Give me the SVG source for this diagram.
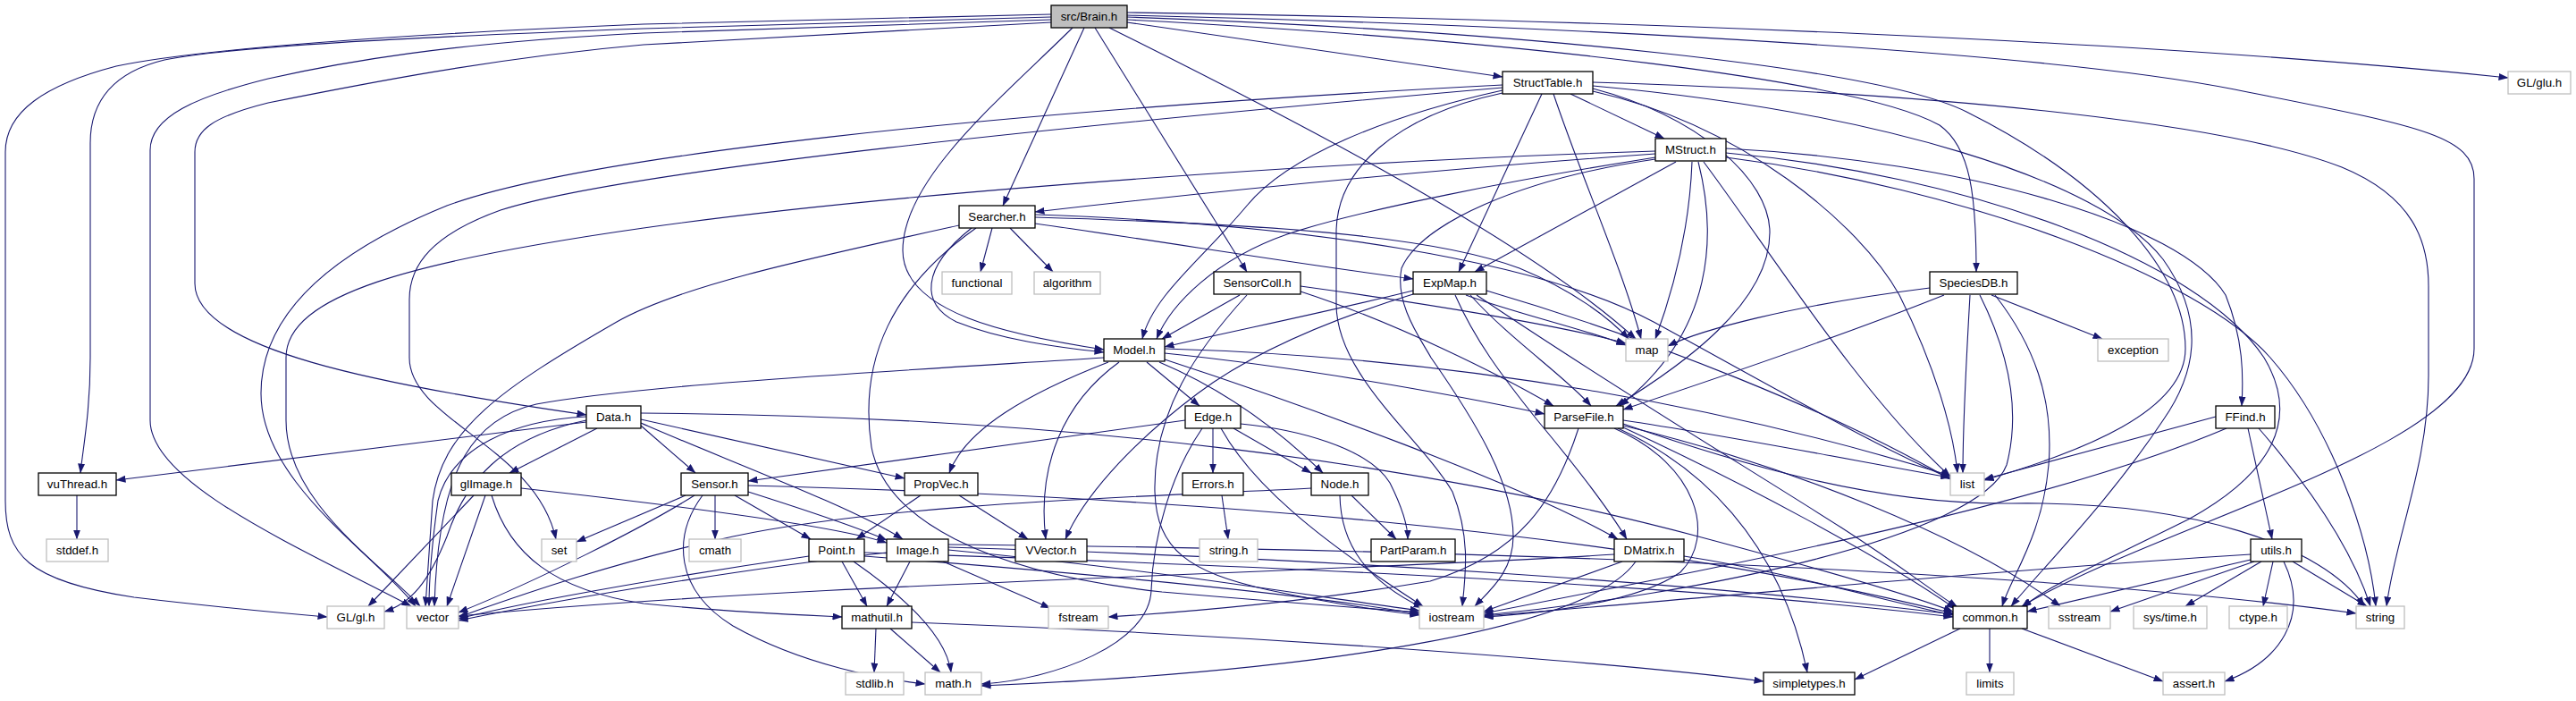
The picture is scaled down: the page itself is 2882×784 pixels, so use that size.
<svg xmlns="http://www.w3.org/2000/svg" width="2882" height="784" viewBox="0 0 2882 784">
<style>
.e{fill:none;stroke:#191970;stroke-width:1.1;marker-end:url(#a)}
.p{fill:#fff;stroke:#000;stroke-width:1.3}
.x{fill:#fff;stroke:#bfbfbf;stroke-width:1.3}
.r{fill:#bfbfbf;stroke:#000;stroke-width:1.3}
text{font-family:"Liberation Sans",Arial,sans-serif;font-size:13.3px;fill:#000;text-anchor:middle}
</style>
<defs>
<marker id="a" markerWidth="11" markerHeight="8" refX="10.5" refY="4" orient="auto" markerUnits="userSpaceOnUse"><path d="M0,0 L11,4 L0,8 z" fill="#191970"/></marker>
</defs>
<rect width="2882" height="784" fill="#fff"/>
<g id="edges">
<path class="e" d="M1176,16 C1000,20 850,24 720,27 C450,38 220,55 130,74 C50,95 6,125 6,170 L6,560 C6,620 30,650 150,668 C250,680 320,686 366,690"/>
<path class="e" d="M1176,19 C1000,24 850,29 720,32 C450,42 260,52 184,67 C130,80 101,110 101,160 L101,400 C101,460 93,500 90,529"/>
<path class="e" d="M1176,22 C1000,28 850,33 720,37 C500,48 380,70 300,88 C220,108 168,130 168,168 L168,470 C168,540 330,610 460,678"/>
<path class="e" d="M1176,25 C1000,35 850,44 720,50 C550,65 400,95 300,115 C240,130 218,145 218,170 L218,317 C218,390 420,430 656,464"/>
<path class="e" d="M1213,31 L1122,230"/>
<path class="e" d="M1200,31 C1120,110 1010,200 1010,280 C1010,350 1130,375 1235,391"/>
<path class="e" d="M1225,31 L1395,304"/>
<path class="e" d="M1241,31 C1400,110 1700,260 1830,379"/>
<path class="e" d="M1261,25 L1681,86"/>
<path class="e" d="M1261,22 C1700,45 2080,90 2170,140 C2205,165 2211,220 2211,304"/>
<path class="e" d="M1261,19 C1700,35 2100,75 2200,125 C2350,200 2445,300 2445,390 C2445,460 2330,505 2220,537"/>
<path class="e" d="M1261,17 C1800,30 2300,60 2500,100 C2700,140 2768,150 2768,200 L2768,390 C2768,500 2420,585 2262,678"/>
<path class="e" d="M1261,14 C1800,22 2400,45 2806,87"/>
<path class="e" d="M1681,95 C1100,125 650,175 500,230 C340,295 292,370 292,440 C292,540 420,620 465,678"/>
<path class="e" d="M1681,98 C1200,140 700,190 560,235 C485,262 458,295 458,335 L458,400 C458,470 600,500 622,603"/>
<path class="e" d="M1681,101 C1550,130 1440,175 1395,230 C1345,290 1290,330 1278,379"/>
<path class="e" d="M1681,104 C1560,130 1495,190 1495,260 L1495,340 C1495,420 1590,490 1625,550 C1645,600 1640,640 1636,678"/>
<path class="e" d="M1757,105 L1862,155"/>
<path class="e" d="M1725,105 L1632,304"/>
<path class="e" d="M1738,105 C1770,200 1815,300 1836,379"/>
<path class="e" d="M1782,99 C1900,130 1980,200 1980,260 C1980,340 1880,410 1808,454"/>
<path class="e" d="M1782,102 C1950,140 2080,250 2125,330 C2165,410 2185,480 2190,529"/>
<path class="e" d="M1782,92 C2200,105 2500,140 2620,187 C2700,220 2717,270 2717,320 L2717,420 C2717,520 2680,600 2670,678"/>
<path class="e" d="M1782,96 C2100,125 2350,200 2420,290 C2470,360 2455,420 2420,470 C2360,560 2290,630 2250,678"/>
<path class="e" d="M1852,172 C1600,190 1350,215 1158,237"/>
<path class="e" d="M1852,169 C1500,180 1000,215 720,255 C460,292 320,330 320,400 L320,470 C320,560 420,625 470,678"/>
<path class="e" d="M1852,176 C1700,200 1520,235 1440,262 C1360,290 1310,340 1294,379"/>
<path class="e" d="M1875,181 L1650,304"/>
<path class="e" d="M1893,181 C1890,260 1870,330 1852,379"/>
<path class="e" d="M1900,181 C1920,260 1920,370 1812,454"/>
<path class="e" d="M1906,181 C1980,280 2080,440 2182,533"/>
<path class="e" d="M1852,178 C1700,200 1590,250 1568,300 C1560,340 1590,380 1601,400 C1650,470 1693,540 1693,600 C1693,640 1665,662 1650,678"/>
<path class="e" d="M1931,166 C2200,180 2440,250 2490,330 C2510,380 2510,420 2508,454"/>
<path class="e" d="M1931,171 C2200,195 2460,290 2533,400 C2575,470 2540,530 2450,580 C2350,630 2290,655 2262,680"/>
<path class="e" d="M1931,176 C2200,210 2460,310 2540,400 C2610,480 2650,600 2658,678"/>
<path class="e" d="M1073,252 C900,290 760,320 690,360 C560,435 495,480 484,560 C480,620 478,650 476,678"/>
<path class="e" d="M1087,255 C1030,300 1030,340 1070,360 C1120,380 1180,388 1235,394"/>
<path class="e" d="M1092,255 C1000,320 960,400 975,500 C990,580 1100,640 1300,662 C1450,675 1540,681 1588,685"/>
<path class="e" d="M1110,255 L1097,304"/>
<path class="e" d="M1130,255 L1178,304"/>
<path class="e" d="M1158,250 C1300,270 1450,295 1581,312"/>
<path class="e" d="M1158,243 C1400,250 1600,262 1700,300 C1760,325 1800,355 1822,379"/>
<path class="e" d="M1158,240 C1450,250 1720,290 1850,360 C1960,420 2100,500 2182,535"/>
<path class="e" d="M1387,330 L1300,379"/>
<path class="e" d="M1395,330 C1340,390 1290,460 1292,550 C1294,615 1330,640 1420,660 C1490,675 1545,683 1588,688"/>
<path class="e" d="M1455,326 C1560,360 1680,420 1738,454"/>
<path class="e" d="M1455,320 C1600,340 1750,365 1819,384"/>
<path class="e" d="M1581,325 C1480,350 1380,370 1303,388"/>
<path class="e" d="M1581,329 C1480,360 1400,395 1340,440 C1260,500 1210,560 1192,603"/>
<path class="e" d="M1640,330 C1700,352 1780,370 1819,386"/>
<path class="e" d="M1628,330 C1650,380 1680,420 1720,470 C1770,530 1800,570 1820,603"/>
<path class="e" d="M1645,330 C1690,380 1750,420 1780,454"/>
<path class="e" d="M1663,325 C1850,380 2050,460 2182,536"/>
<path class="e" d="M1652,330 C1800,430 1950,520 2060,590 C2130,635 2160,660 2190,679"/>
<path class="e" d="M2159,322 C2000,342 1900,370 1866,387"/>
<path class="e" d="M2175,330 C2050,380 1900,430 1816,458"/>
<path class="e" d="M2228,330 L2352,379"/>
<path class="e" d="M2204,330 C2200,400 2196,470 2196,529"/>
<path class="e" d="M2215,330 C2245,390 2262,455 2245,520 C2215,600 1900,665 1660,688"/>
<path class="e" d="M2232,330 C2275,385 2298,445 2292,520 C2285,600 2250,645 2240,678"/>
<path class="e" d="M1235,400 C1000,415 720,430 600,452 C520,470 490,540 486,678"/>
<path class="e" d="M1240,405 C1150,440 1080,480 1062,529"/>
<path class="e" d="M1252,405 C1190,450 1160,520 1170,603"/>
<path class="e" d="M1283,405 L1342,454"/>
<path class="e" d="M1297,405 C1380,440 1440,490 1480,529"/>
<path class="e" d="M1303,395 C1450,410 1620,440 1728,463"/>
<path class="e" d="M1303,390 C1650,400 1950,460 2182,532"/>
<path class="e" d="M1303,402 C1450,450 1700,540 1810,603"/>
<path class="e" d="M656,472 L130,537"/>
<path class="e" d="M656,466 C575,470 505,500 490,560 C483,610 480,650 480,678"/>
<path class="e" d="M656,470 C560,490 520,540 500,600 C480,650 460,675 430,684"/>
<path class="e" d="M668,479 L570,529"/>
<path class="e" d="M717,476 L778,529"/>
<path class="e" d="M717,469 L1012,535"/>
<path class="e" d="M717,473 C800,510 950,565 1010,603"/>
<path class="e" d="M717,462 C1200,465 1600,520 1900,600 C2050,640 2150,670 2185,684"/>
<path class="e" d="M86,554 L86,603"/>
<path class="e" d="M530,554 L412,678"/>
<path class="e" d="M543,554 L500,678"/>
<path class="e" d="M583,546 C800,570 940,590 992,607"/>
<path class="e" d="M550,554 C570,620 620,660 720,675 C820,685 900,688 942,690"/>
<path class="e" d="M767,554 L645,606"/>
<path class="e" d="M777,554 C720,590 600,650 513,685"/>
<path class="e" d="M786,554 C752,600 755,660 820,700 C900,745 990,760 1035,765"/>
<path class="e" d="M800,554 L800,603"/>
<path class="e" d="M822,554 L907,603"/>
<path class="e" d="M837,550 C900,570 960,590 992,604"/>
<path class="e" d="M837,543 C1300,555 1800,590 2185,686"/>
<path class="e" d="M1030,554 L958,603"/>
<path class="e" d="M1073,554 L1150,603"/>
<path class="e" d="M1326,470 L837,538"/>
<path class="e" d="M1357,479 L1357,529"/>
<path class="e" d="M1380,479 L1467,529"/>
<path class="e" d="M1388,474 C1450,480 1530,500 1555,540 C1570,570 1575,590 1575,603"/>
<path class="e" d="M1345,479 C1310,530 1290,600 1288,660 C1286,720 1180,760 1098,765"/>
<path class="e" d="M1366,479 C1400,540 1470,600 1592,678"/>
<path class="e" d="M1467,546 C1300,555 1000,562 820,600 C680,630 570,670 513,690"/>
<path class="e" d="M1512,554 L1562,603"/>
<path class="e" d="M1499,554 C1500,610 1530,650 1592,680"/>
<path class="e" d="M1367,554 L1374,603"/>
<path class="e" d="M905,622 C780,640 600,670 513,692"/>
<path class="e" d="M942,628 L970,678"/>
<path class="e" d="M955,628 C1030,680 1060,720 1064,752"/>
<path class="e" d="M967,622 C1200,640 1450,662 1588,687"/>
<path class="e" d="M967,618 C1400,632 1900,655 2185,690"/>
<path class="e" d="M992,618 C800,640 600,676 513,694"/>
<path class="e" d="M1018,628 L992,678"/>
<path class="e" d="M1055,628 L1175,680"/>
<path class="e" d="M1061,615 C1300,638 1450,664 1588,683"/>
<path class="e" d="M1061,612 C1500,625 1900,652 2185,687"/>
<path class="e" d="M1061,609 C1700,615 2300,640 2636,686"/>
<path class="e" d="M980,703 L978,752"/>
<path class="e" d="M996,703 L1052,752"/>
<path class="e" d="M1020,696 C1400,710 1800,740 1973,762"/>
<path class="e" d="M1766,479 C1740,560 1700,620 1600,650 C1450,675 1320,685 1240,690"/>
<path class="e" d="M1816,470 C1950,490 2100,520 2182,534"/>
<path class="e" d="M1806,479 C1900,520 1920,600 1880,640 C1830,675 1720,686 1660,690"/>
<path class="e" d="M1810,479 C1900,520 1990,600 2022,752"/>
<path class="e" d="M1816,476 C2000,520 2200,600 2305,678"/>
<path class="e" d="M1816,474 C1950,520 2100,565 2250,563 C2450,560 2600,610 2645,678"/>
<path class="e" d="M1816,478 C1950,540 2100,620 2188,681"/>
<path class="e" d="M1806,620 C1500,640 900,652 513,689"/>
<path class="e" d="M1815,628 L1660,684"/>
<path class="e" d="M1830,628 C1780,700 1500,750 1098,767"/>
<path class="e" d="M1884,622 C2000,640 2100,670 2185,688"/>
<path class="e" d="M2479,466 L2220,536"/>
<path class="e" d="M2491,479 C2300,560 2000,620 1660,686"/>
<path class="e" d="M2515,479 L2542,603"/>
<path class="e" d="M2527,479 C2580,540 2630,610 2652,678"/>
<path class="e" d="M2518,620 C2200,640 1900,670 1660,689"/>
<path class="e" d="M2518,626 L2268,684"/>
<path class="e" d="M2522,628 L2361,684"/>
<path class="e" d="M2530,628 L2445,678"/>
<path class="e" d="M2543,628 L2532,678"/>
<path class="e" d="M2555,628 C2585,690 2550,740 2489,762"/>
<path class="e" d="M2565,628 L2648,678"/>
<path class="e" d="M2193,703 L2075,760"/>
<path class="e" d="M2226,703 L2226,752"/>
<path class="e" d="M2262,703 L2420,762"/>
</g>
<g id="n_brain"><rect class="r" x="1176" y="6" width="85" height="25"/><text x="1218.5" y="23">src/Brain.h</text></g>
<g id="n_structtable"><rect class="p" x="1681" y="80" width="101" height="25"/><text x="1731.5" y="97">StructTable.h</text></g>
<g id="n_glu"><rect class="x" x="2806" y="80" width="70" height="25"/><text x="2841" y="97">GL/glu.h</text></g>
<g id="n_mstruct"><rect class="p" x="1852" y="155" width="79" height="25"/><text x="1891.5" y="172">MStruct.h</text></g>
<g id="n_searcher"><rect class="p" x="1073" y="230" width="85" height="25"/><text x="1115.5" y="247">Searcher.h</text></g>
<g id="n_functional"><rect class="x" x="1054" y="304" width="78" height="25"/><text x="1093" y="321">functional</text></g>
<g id="n_algorithm"><rect class="x" x="1157" y="304" width="74" height="25"/><text x="1194" y="321">algorithm</text></g>
<g id="n_sensorcoll"><rect class="p" x="1358" y="304" width="97" height="25"/><text x="1406.5" y="321">SensorColl.h</text></g>
<g id="n_expmap"><rect class="p" x="1581" y="304" width="82" height="25"/><text x="1622" y="321">ExpMap.h</text></g>
<g id="n_speciesdb"><rect class="p" x="2159" y="304" width="98" height="25"/><text x="2208" y="321">SpeciesDB.h</text></g>
<g id="n_model"><rect class="p" x="1235" y="379" width="68" height="25"/><text x="1269" y="396">Model.h</text></g>
<g id="n_map"><rect class="x" x="1819" y="379" width="47" height="25"/><text x="1842.5" y="396">map</text></g>
<g id="n_exception"><rect class="x" x="2347" y="379" width="79" height="25"/><text x="2386.5" y="396">exception</text></g>
<g id="n_data"><rect class="p" x="656" y="454" width="61" height="25"/><text x="686.5" y="471">Data.h</text></g>
<g id="n_edge"><rect class="p" x="1326" y="454" width="62" height="25"/><text x="1357" y="471">Edge.h</text></g>
<g id="n_parsefile"><rect class="p" x="1728" y="454" width="88" height="25"/><text x="1772" y="471">ParseFile.h</text></g>
<g id="n_ffind"><rect class="p" x="2479" y="454" width="66" height="25"/><text x="2512" y="471">FFind.h</text></g>
<g id="n_vuthread"><rect class="p" x="43" y="529" width="87" height="25"/><text x="86.5" y="546">vuThread.h</text></g>
<g id="n_glimage"><rect class="p" x="505" y="529" width="78" height="25"/><text x="544" y="546">glImage.h</text></g>
<g id="n_sensor"><rect class="p" x="762" y="529" width="75" height="25"/><text x="799.5" y="546">Sensor.h</text></g>
<g id="n_propvec"><rect class="p" x="1012" y="529" width="82" height="25"/><text x="1053" y="546">PropVec.h</text></g>
<g id="n_errors"><rect class="p" x="1323" y="529" width="68" height="25"/><text x="1357" y="546">Errors.h</text></g>
<g id="n_node"><rect class="p" x="1467" y="529" width="64" height="25"/><text x="1499" y="546">Node.h</text></g>
<g id="n_list"><rect class="x" x="2182" y="529" width="38" height="25"/><text x="2201" y="546">list</text></g>
<g id="n_stddef"><rect class="x" x="52" y="603" width="69" height="25"/><text x="86.5" y="620">stddef.h</text></g>
<g id="n_set"><rect class="x" x="606" y="603" width="39" height="25"/><text x="625.5" y="620">set</text></g>
<g id="n_cmath"><rect class="x" x="771" y="603" width="58" height="25"/><text x="800" y="620">cmath</text></g>
<g id="n_point"><rect class="p" x="905" y="603" width="62" height="25"/><text x="936" y="620">Point.h</text></g>
<g id="n_image"><rect class="p" x="992" y="603" width="69" height="25"/><text x="1026.5" y="620">Image.h</text></g>
<g id="n_vvector"><rect class="p" x="1136" y="603" width="80" height="25"/><text x="1176" y="620">VVector.h</text></g>
<g id="n_stringh"><rect class="x" x="1342" y="603" width="65" height="25"/><text x="1374.5" y="620">string.h</text></g>
<g id="n_partparam"><rect class="p" x="1534" y="603" width="94" height="25"/><text x="1581" y="620">PartParam.h</text></g>
<g id="n_dmatrix"><rect class="p" x="1806" y="603" width="78" height="25"/><text x="1845" y="620">DMatrix.h</text></g>
<g id="n_utils"><rect class="p" x="2518" y="603" width="57" height="25"/><text x="2546.5" y="620">utils.h</text></g>
<g id="n_gl"><rect class="x" x="366" y="678" width="64" height="25"/><text x="398" y="695">GL/gl.h</text></g>
<g id="n_vector"><rect class="x" x="455" y="678" width="58" height="25"/><text x="484" y="695">vector</text></g>
<g id="n_mathutil"><rect class="p" x="942" y="678" width="78" height="25"/><text x="981" y="695">mathutil.h</text></g>
<g id="n_fstream"><rect class="x" x="1173" y="678" width="67" height="25"/><text x="1206.5" y="695">fstream</text></g>
<g id="n_iostream"><rect class="x" x="1588" y="678" width="72" height="25"/><text x="1624" y="695">iostream</text></g>
<g id="n_common"><rect class="p" x="2185" y="678" width="83" height="25"/><text x="2226.5" y="695">common.h</text></g>
<g id="n_sstream"><rect class="x" x="2292" y="678" width="69" height="25"/><text x="2326.5" y="695">sstream</text></g>
<g id="n_systime"><rect class="x" x="2387" y="678" width="82" height="25"/><text x="2428" y="695">sys/time.h</text></g>
<g id="n_ctype"><rect class="x" x="2494" y="678" width="65" height="25"/><text x="2526.5" y="695">ctype.h</text></g>
<g id="n_string"><rect class="x" x="2636" y="678" width="54" height="25"/><text x="2663" y="695">string</text></g>
<g id="n_stdlib"><rect class="x" x="946" y="752" width="65" height="25"/><text x="978.5" y="769">stdlib.h</text></g>
<g id="n_math"><rect class="x" x="1035" y="752" width="63" height="25"/><text x="1066.5" y="769">math.h</text></g>
<g id="n_simpletypes"><rect class="p" x="1973" y="752" width="102" height="25"/><text x="2024" y="769">simpletypes.h</text></g>
<g id="n_limits"><rect class="x" x="2200" y="752" width="53" height="25"/><text x="2226.5" y="769">limits</text></g>
<g id="n_assert"><rect class="x" x="2420" y="752" width="69" height="25"/><text x="2454.5" y="769">assert.h</text></g>
</svg>
